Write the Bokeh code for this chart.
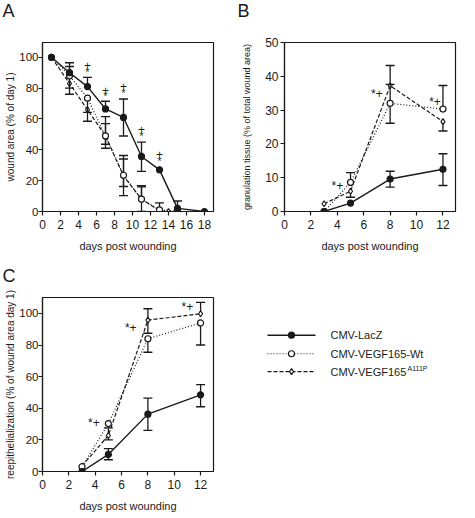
from bokeh.plotting import figure
from bokeh.layouts import column, row
from bokeh.models import Range1d, Title, FixedTicker
from bokeh.embed import file_html
from bokeh.resources import INLINE
from bokeh.core.properties import value

FONT = "Liberation Sans"
INK = "#1a1a1a"

# ---------------- Panel A : wound area (% of day 1) ----------------
a_lacz_days = [1, 3, 5, 7, 9, 11, 13, 15, 18]
a_lacz_mean = [100, 90, 81, 66.5, 61, 35.7, 27, 2, 0]
a_lacz_hi = [None, 96.5, 87, 71.5, 73, 45, None, 6.8, None]
a_lacz_lo = [None, None, None, None, 49, 26, None, None, None]

a_wt_days = [1, 3, 5, 7, 9, 11, 13, 15]
a_wt_mean = [100, 88, 73.5, 49, 23.5, 8, 1, 0]
a_wt_hi = [None, 94, None, 61.5, 36.3, 16.7, 5.6, None]
a_wt_lo = [None, 80, 64.3, 41, 10.3, 0, None, None]

a_mut_days = [1, 3, 5, 7, 9, 11, 13, 14]
a_mut_mean = [100, 83, 66, 49, 23, 8, 0.5, 0]
a_mut_hi = [None, None, None, 57, 34, 16, None, None]
a_mut_lo = [None, 76, 58.5, 43.6, 16.2, None, None, None]

a_sig_days = [5, 7, 9, 11, 13]
a_plus_y = [94.7, 78.6, 80.8, 53.2, 37]
a_star_y = [90.4, 74.4, 76.5, 48.7, 32.7]

# ---------------- Panel B : granulation tissue ----------------
b_days = [3, 5, 8, 12]
b_lacz_mean = [0, 2.5, 9.6, 12.5]
b_lacz_hi = [None, None, 11.9, 17.1]
b_lacz_lo = [None, None, 7.2, 7.7]
b_wt_mean = [0, 8.6, 32, 30.3]
b_wt_hi = [None, 11.5, 37.6, 37.3]
b_wt_lo = [None, None, 26.1, None]
b_mut_mean = [2.3, 6, 37.2, 26.6]
b_mut_hi = [None, None, 43.2, None]
b_mut_lo = [None, 4.2, None, 23.8]
b_sig_x = [4.0, 7.0, 11.4]
b_sig_y = [7.4, 34.8, 32.3]

# ---------------- Panel C : reepithelialization ----------------
c_days = [3, 5, 8, 12]
c_lacz_mean = [0, 10.8, 36.3, 48.5]
c_lacz_hi = [None, 14.5, 46.4, 55]
c_lacz_lo = [None, 7.4, 26, 41]
c_wt_mean = [3, 30.3, 84, 94]
c_wt_hi = [None, None, None, None]
c_wt_lo = [None, None, 75.5, 80]
c_mut_mean = [3.5, 22.8, 95.8, 99.8]
c_mut_hi = [None, 27.6, 103, 107]
c_mut_lo = [None, 20, 87.5, None]
c_sig_x = [3.9, 6.7, 11.0]
c_sig_y = [30.6, 90.7, 104]

legend_labels = ["CMV-LacZ", "CMV-VEGF165-Wt", "CMV-VEGF165"]
legend_sup = "A111P"

STYLES = {
    "lacz": dict(dash="solid", lw=1.4, marker="circle", size=6, fill=INK),
    "wt": dict(dash="1 2", lw=1.2, marker="circle", size=6, fill="white"),
    "mut": dict(dash="4 2", lw=1.2, marker="diamond", size=6, fill="white"),
}


def base_fig(width, height, xr, yr, xticks, yticks, ylabel, ylabel_size, ylabel_standoff,
             ytick_size, ytick_standoff, bl, br, bt, bb):
    p = figure(width=width, height=height, x_range=Range1d(*xr), y_range=Range1d(*yr),
               output_backend="svg", toolbar_location=None,
               min_border_left=bl, min_border_right=br, min_border_top=bt, min_border_bottom=bb)
    p.grid.visible = False
    p.outline_line_color = INK
    p.outline_line_width = 1.2
    p.background_fill_color = "white"
    p.border_fill_color = "white"
    p.xaxis.ticker = FixedTicker(ticks=xticks)
    p.yaxis.ticker = FixedTicker(ticks=yticks)
    p.xaxis.axis_label = "days post wounding"
    p.yaxis.axis_label = ylabel
    for ax in (p.xaxis, p.yaxis):
        ax.axis_line_color = INK
        ax.axis_line_width = 1.2
        ax.major_tick_line_color = INK
        ax.major_tick_line_width = 1.2
        ax.major_tick_out = 4
        ax.major_tick_in = 0
        ax.minor_tick_line_color = None
        ax.major_label_text_font = FONT
        ax.major_label_text_font_size = "12px"
        ax.major_label_text_color = INK
        ax.axis_label_text_font = FONT
        ax.axis_label_text_font_size = "11px"
        ax.axis_label_text_font_style = "normal"
        ax.axis_label_text_color = INK
    p.yaxis.axis_label_text_font_size = ylabel_size
    p.yaxis.major_label_text_font_size = ytick_size
    p.xaxis.major_label_standoff = 4
    p.xaxis.axis_label_standoff = 8
    p.yaxis.major_label_standoff = ytick_standoff
    p.yaxis.axis_label_standoff = ylabel_standoff
    return p


def series(p, days, mean, hi, lo, key):
    st = STYLES[key]
    for ends in (hi, lo):
        xs = [d for d, e in zip(days, ends) if e is not None]
        y0 = [m for m, e in zip(mean, ends) if e is not None]
        y1 = [e for e in ends if e is not None]
        if xs:
            p.segment(x0=xs, y0=y0, x1=xs, y1=y1, line_color=INK, line_width=1.3)
            p.scatter(xs, y1, marker="dash", size=9, line_color=INK, line_width=1.4)
    p.line(days, mean, line_color=INK, line_width=st["lw"], line_dash=st["dash"])
    p.scatter(days, mean, marker=st["marker"], size=st["size"], fill_color=st["fill"],
              line_color=INK, line_width=1.2)


def letter(p, t, offset, standoff):
    p.add_layout(Title(text=t, align="left", offset=offset, standoff=standoff,
                       vertical_align="top",
                       text_font=FONT, text_font_size="18px", text_font_style="normal",
                       text_color=INK), "above")


# Panel A
pa = base_fig(235, 255, (0, 19), (0, 109.6), list(range(0, 19, 2)), list(range(0, 101, 20)),
              "wound area (% of day 1)", "10px", 0, "11.5px", 0, 42, 22, 41, 43)
series(pa, a_mut_days, a_mut_mean, a_mut_hi, a_mut_lo, "mut")
series(pa, a_wt_days, a_wt_mean, a_wt_hi, a_wt_lo, "wt")
series(pa, a_lacz_days, a_lacz_mean, a_lacz_hi, a_lacz_lo, "lacz")
pa.text(x=a_sig_days, y=a_plus_y, text=["+"] * len(a_sig_days), text_font=value(FONT),
        text_font_size="12px", text_align="center", text_baseline="middle", text_color=INK)
pa.text(x=a_sig_days, y=a_star_y, text=["*"] * len(a_sig_days), text_font=value(FONT),
        text_font_size="10px", text_align="center", text_baseline="middle", text_color=INK)
letter(pa, "A\n ", -40, 0)

# Panel B
pb = base_fig(240, 255, (0, 12.95), (0, 50), list(range(0, 13, 2)), list(range(0, 51, 10)),
              "granulation tissue (% of total wound area)", "9px", 10, "12px", 2, 49, 20, 42, 44)
series(pb, b_days, b_mut_mean, b_mut_hi, b_mut_lo, "mut")
series(pb, b_days, b_wt_mean, b_wt_hi, b_wt_lo, "wt")
series(pb, b_days, b_lacz_mean, b_lacz_hi, b_lacz_lo, "lacz")
pb.text(x=b_sig_x, y=b_sig_y, text=["*+"] * len(b_sig_x), text_font=value(FONT),
        text_font_size="12px", text_align="center", text_baseline="middle", text_color=INK)
letter(pb, "B\n ", -47, 0)

# Panel C
pc = base_fig(235, 263, (0, 12.98), (0, 110.1), list(range(0, 13, 2)), list(range(0, 101, 20)),
              "reepithelialization (% of wound area day 1)", "10px", 0, "11.5px", 0, 42, 22, 42, 47)
series(pc, c_days, c_mut_mean, c_mut_hi, c_mut_lo, "mut")
series(pc, c_days, c_wt_mean, c_wt_hi, c_wt_lo, "wt")
series(pc, c_days, c_lacz_mean, c_lacz_hi, c_lacz_lo, "lacz")
pc.text(x=c_sig_x, y=c_sig_y, text=["*+"] * len(c_sig_x), text_font=value(FONT),
        text_font_size="12px", text_align="center", text_baseline="middle", text_color=INK)
letter(pc, "C", -40, 20)

# Legend panel (pixel coordinates, y downward)
pd = figure(width=240, height=263, x_range=Range1d(0, 240), y_range=Range1d(263, 0),
            output_backend="svg", toolbar_location=None,
            min_border_left=0, min_border_right=0, min_border_top=0, min_border_bottom=0)
pd.axis.visible = False
pd.grid.visible = False
pd.outline_line_color = None
row_y = [57, 85, 112]
for key, yy in zip(["lacz", "wt", "mut"], row_y):
    st = STYLES[key]
    pd.line([32, 80], [yy, yy], line_color=INK, line_width=st["lw"], line_dash=st["dash"])
    pd.scatter([56], [yy], marker=st["marker"], size=st["size"], fill_color=st["fill"],
               line_color=INK, line_width=1.2)
pd.text(x=[95] * 3, y=row_y, text=legend_labels, text_font=value(FONT),
        text_font_size="11px", text_align="left", text_baseline="middle", text_color=INK)
pd.text(x=[172], y=[row_y[2] - 5], text=[legend_sup], text_font=value(FONT),
        text_font_size="7px", text_align="left", text_baseline="middle", text_color=INK)

layout = column(row(pa, pb), row(pc, pd))
open("out.html", "w").write(file_html(layout, INLINE))
